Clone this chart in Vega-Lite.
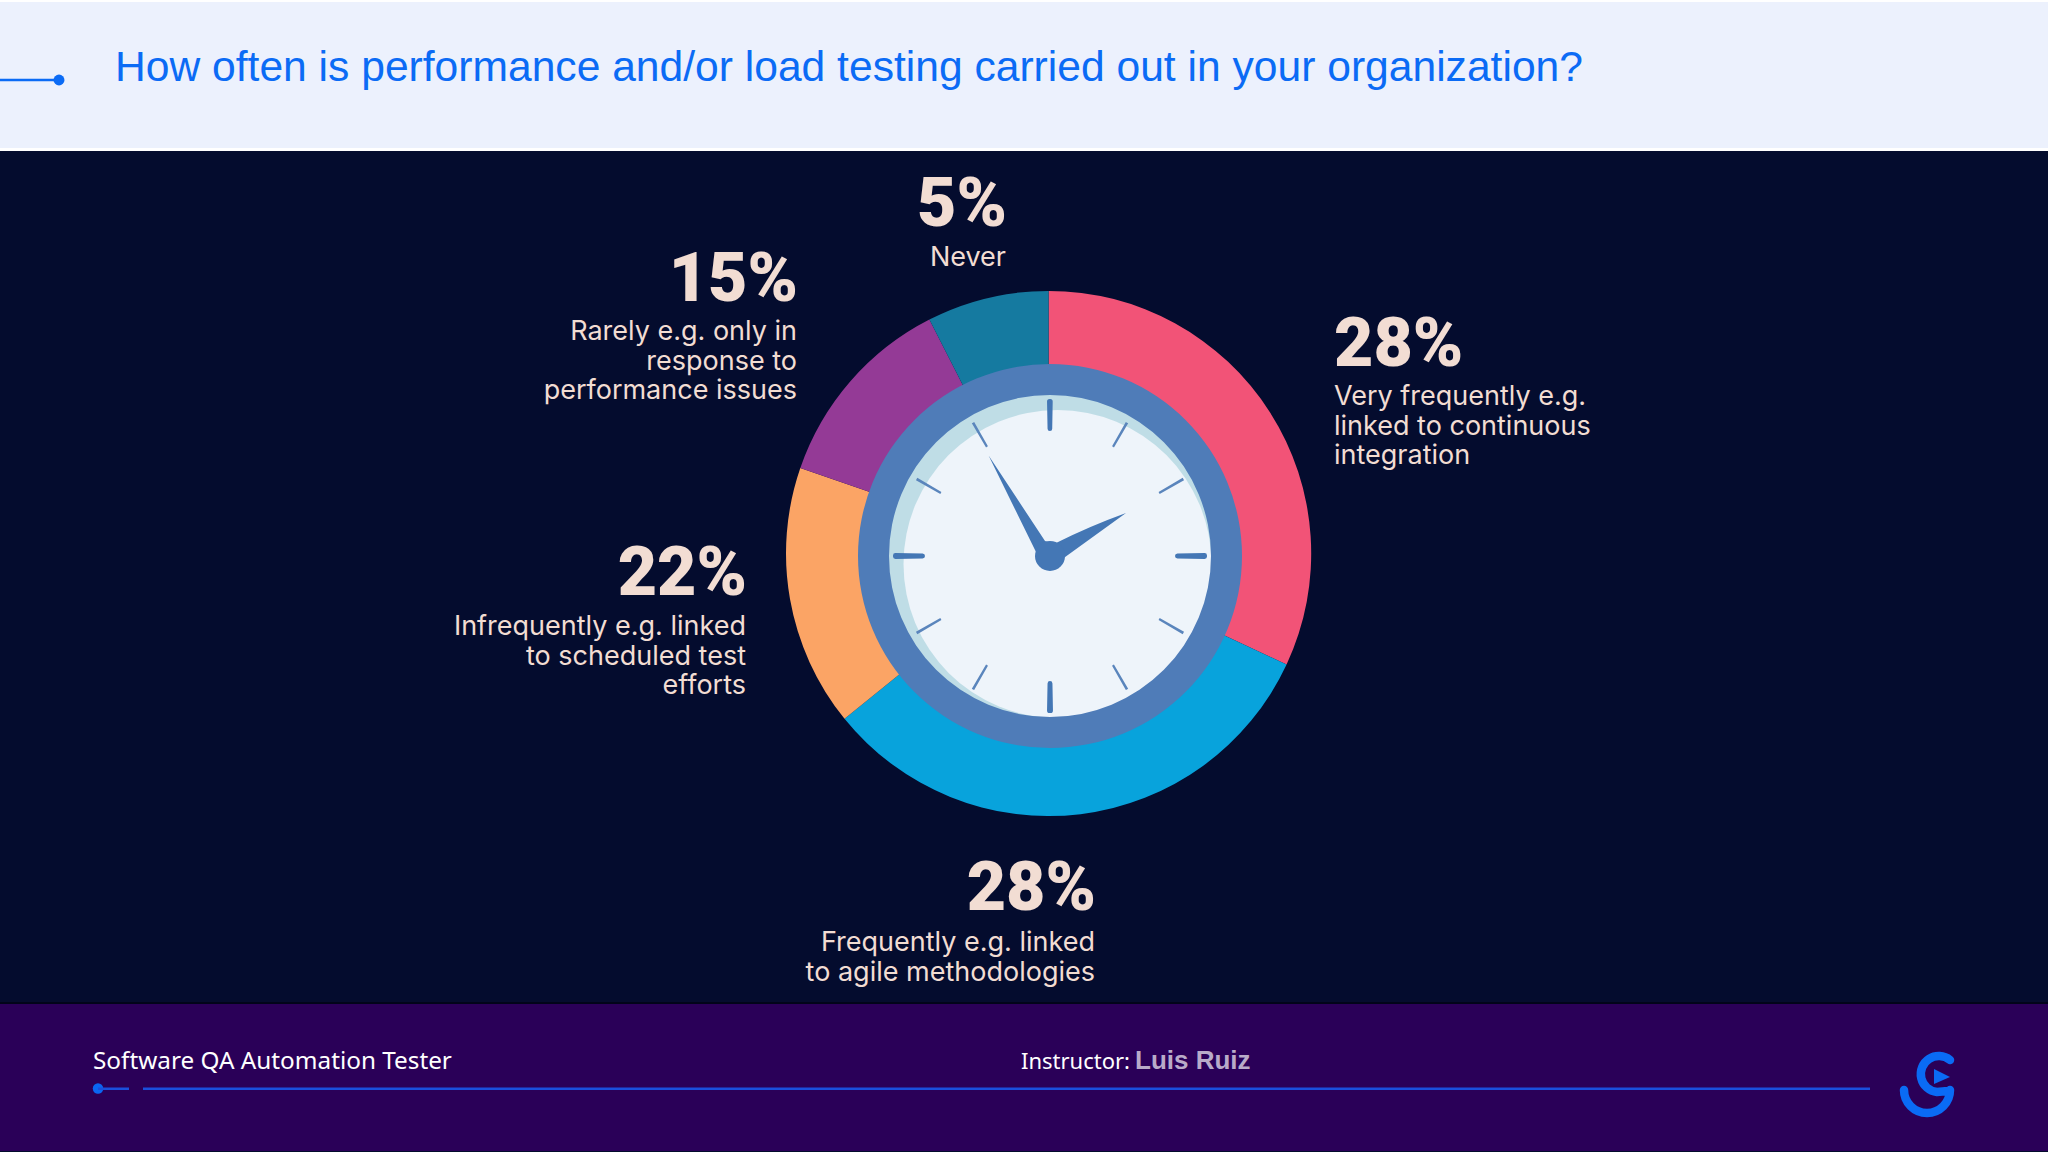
{
  "$schema": "https://vega.github.io/schema/vega-lite/v6.json",
  "autosize": {"type": "none"},
  "padding": 0,
  "width": 2048,
  "height": 1152,
  "background": "#040C2E",
  "view": {"stroke": null},
  "title": {
    "text": "How often is performance and/or load testing carried out in your organization?",
    "anchor": "start",
    "frame": "group",
    "baseline": "alphabetic",
    "offset": 0,
    "dx": 115,
    "dy": 124,
    "font": "Liberation Sans",
    "fontSize": 42.6,
    "fontWeight": "normal",
    "color": "#0B6BF5"
  },
  "datasets": {
    "answers": [
      {"answer": "Very frequently", "rank": 1, "degrees": 115, "share": "28%", "detail": ["Very frequently e.g.", "linked to continuous", "integration"]},
      {"answer": "Frequently", "rank": 2, "degrees": 116, "share": "28%", "detail": ["Frequently e.g. linked", "to agile methodologies"]},
      {"answer": "Infrequently", "rank": 3, "degrees": 58, "share": "22%", "detail": ["Infrequently e.g. linked", "to scheduled test", "efforts"]},
      {"answer": "Rarely", "rank": 4, "degrees": 44, "share": "15%", "detail": ["Rarely e.g. only in", "response to", "performance issues"]},
      {"answer": "Never", "rank": 5, "degrees": 27, "share": "5%", "detail": ["Never"]}
    ],
    "hours": [
      {"hour": 12, "kind": "major", "start": 358.9, "end": 361},
      {"hour": 1, "kind": "minor", "start": 29.5, "end": 30.5},
      {"hour": 2, "kind": "minor", "start": 59.5, "end": 60.5},
      {"hour": 3, "kind": "major", "start": 88.9, "end": 91.1},
      {"hour": 4, "kind": "minor", "start": 119.5, "end": 120.5},
      {"hour": 5, "kind": "minor", "start": 149.5, "end": 150.5},
      {"hour": 6, "kind": "major", "start": 178.9, "end": 181.1},
      {"hour": 7, "kind": "minor", "start": 209.5, "end": 210.5},
      {"hour": 8, "kind": "minor", "start": 239.5, "end": 240.5},
      {"hour": 9, "kind": "major", "start": 268.9, "end": 271.1},
      {"hour": 10, "kind": "minor", "start": 299.5, "end": 300.5},
      {"hour": 11, "kind": "minor", "start": 329.5, "end": 330.5}
    ],
    "one": [{"part": "decoration"}]
  },
  "data": {"name": "answers"},
  "layer": [
    {"data": {"name": "one"}, "encoding": {}, "mark": {"type": "rect", "x": 0, "x2": 2048, "y": 0, "y2": 151, "fill": "#FFFFFF"}},
    {"data": {"name": "one"}, "encoding": {}, "mark": {"type": "rect", "x": 0, "x2": 2048, "y": 2, "y2": 148, "fill": "#ECF1FD"}},
    {"data": {"name": "one"}, "encoding": {}, "mark": {"type": "rect", "x": 0, "x2": 2048, "y": 1002, "y2": 1004, "fill": "#01041A"}},
    {"data": {"name": "one"}, "encoding": {}, "mark": {"type": "rect", "x": 0, "x2": 2048, "y": 1004, "y2": 1151, "fill": "#2A0058"}},
    {"data": {"name": "one"}, "encoding": {}, "mark": {"type": "rect", "x": 0, "x2": 58, "y": 78.8, "y2": 81.2, "fill": "#0B6BF5"}},
    {"data": {"name": "one"}, "encoding": {}, "mark": {"type": "circle", "x": 59, "y": 80, "size": 120, "fill": "#0B6BF5", "opacity": 1}},
    {
      "mark": {"type": "arc", "x": 1048.6, "y": 553.5, "radius": 262.6, "radius2": 170},
      "encoding": {
        "theta": {"field": "degrees", "type": "quantitative", "stack": true},
        "order": {"field": "rank", "type": "quantitative"},
        "color": {
          "field": "answer",
          "type": "nominal",
          "legend": null,
          "scale": {
            "domain": ["Very frequently", "Frequently", "Infrequently", "Rarely", "Never"],
            "range": ["#F25377", "#08A3DC", "#FBA465", "#943A96", "#157AA0"]
          }
        }
      }
    },
    {"data": {"name": "one"}, "encoding": {}, "mark": {"type": "arc", "x": 1050, "y": 556, "radius": 162, "radius2": 0, "theta": 0, "theta2": 6.2832, "fill": "#BFDDE6"}},
    {"data": {"name": "one"}, "encoding": {}, "mark": {"type": "arc", "x": 1057.5, "y": 564, "radius": 154, "radius2": 0, "theta": 0, "theta2": 6.2832, "fill": "#EEF4FA"}},
    {"data": {"name": "one"}, "encoding": {}, "mark": {"type": "arc", "x": 1050, "y": 556, "radius": 192, "radius2": 161, "theta": 0, "theta2": 6.2832, "fill": "#4F7CB8"}},
    {
      "data": {"name": "hours"},
      "transform": [{"filter": "datum.kind == 'major'"}],
      "mark": {"type": "arc", "x": 1050, "y": 556, "radius": 157, "radius2": 125, "cornerRadius": 2.5, "fill": "#4477B5"},
      "encoding": {
        "theta": {"field": "start", "type": "quantitative", "stack": null, "scale": {"domain": [0, 360], "range": [0, 6.2832]}},
        "theta2": {"field": "end"}
      }
    },
    {
      "data": {"name": "hours"},
      "transform": [{"filter": "datum.kind == 'minor'"}],
      "mark": {"type": "arc", "x": 1050, "y": 556, "radius": 154, "radius2": 126, "fill": "#5A85BC"},
      "encoding": {
        "theta": {"field": "start", "type": "quantitative", "stack": null, "scale": {"domain": [0, 360], "range": [0, 6.2832]}},
        "theta2": {"field": "end"}
      }
    },
    {
      "data": {"name": "one"},
      "encoding": {},
      "mark": {
        "type": "point",
        "x": 1050,
        "y": 556,
        "size": 4,
        "filled": true,
        "opacity": 1,
        "fill": "#4477B5",
        "shape": "M-61.4,-100.5 L-5,-15 Q1,-12 6,-13 Q40,-30 76,-43 Q40,-17 11,4 L-14,-4 Z"
      }
    },
    {"data": {"name": "one"}, "encoding": {}, "mark": {"type": "circle", "x": 1050, "y": 556, "size": 900, "fill": "#4477B5", "opacity": 1}},

    {"transform": [{"filter": "datum.rank == 1"}], "mark": {"type": "text", "x": 1334, "y": 366, "align": "left", "baseline": "alphabetic", "font": "Roboto", "fontWeight": 900, "fontSize": 68, "fill": "#F2DDD3"}, "encoding": {"text": {"field": "share"}}},
    {"transform": [{"filter": "datum.rank == 1"}], "mark": {"type": "text", "x": 1334, "y": 405, "align": "left", "baseline": "alphabetic", "font": "Inter", "fontSize": 27, "lineHeight": 29.5, "fill": "#F2DDD3"}, "encoding": {"text": {"field": "detail"}}},

    {"transform": [{"filter": "datum.rank == 2"}], "mark": {"type": "text", "x": 1096, "y": 910, "align": "right", "baseline": "alphabetic", "font": "Roboto", "fontWeight": 900, "fontSize": 68, "fill": "#F2DDD3"}, "encoding": {"text": {"field": "share"}}},
    {"transform": [{"filter": "datum.rank == 2"}], "mark": {"type": "text", "x": 1095, "y": 951, "align": "right", "baseline": "alphabetic", "font": "Inter", "fontSize": 27, "lineHeight": 29.5, "fill": "#F2DDD3"}, "encoding": {"text": {"field": "detail"}}},

    {"transform": [{"filter": "datum.rank == 3"}], "mark": {"type": "text", "x": 747, "y": 595, "align": "right", "baseline": "alphabetic", "font": "Roboto", "fontWeight": 900, "fontSize": 68, "fill": "#F2DDD3"}, "encoding": {"text": {"field": "share"}}},
    {"transform": [{"filter": "datum.rank == 3"}], "mark": {"type": "text", "x": 746, "y": 635, "align": "right", "baseline": "alphabetic", "font": "Inter", "fontSize": 27, "lineHeight": 29.5, "fill": "#F2DDD3"}, "encoding": {"text": {"field": "detail"}}},

    {"transform": [{"filter": "datum.rank == 4"}], "mark": {"type": "text", "x": 798, "y": 301, "align": "right", "baseline": "alphabetic", "font": "Roboto", "fontWeight": 900, "fontSize": 68, "fill": "#F2DDD3"}, "encoding": {"text": {"field": "share"}}},
    {"transform": [{"filter": "datum.rank == 4"}], "mark": {"type": "text", "x": 797, "y": 340, "align": "right", "baseline": "alphabetic", "font": "Inter", "fontSize": 27, "lineHeight": 29.5, "fill": "#F2DDD3"}, "encoding": {"text": {"field": "detail"}}},

    {"transform": [{"filter": "datum.rank == 5"}], "mark": {"type": "text", "x": 1007, "y": 226, "align": "right", "baseline": "alphabetic", "font": "Roboto", "fontWeight": 900, "fontSize": 68, "fill": "#F2DDD3"}, "encoding": {"text": {"field": "share"}}},
    {"transform": [{"filter": "datum.rank == 5"}], "mark": {"type": "text", "x": 1006, "y": 266, "align": "right", "baseline": "alphabetic", "font": "Inter", "fontSize": 27, "lineHeight": 29.5, "fill": "#F2DDD3"}, "encoding": {"text": {"field": "detail"}}},

    {"data": {"values": [{"line": "Software QA Automation Tester"}]}, "mark": {"type": "text", "x": 93, "y": 1069, "align": "left", "baseline": "alphabetic", "font": "Noto Sans", "fontSize": 24.3, "fill": "#FFFFFF"}, "encoding": {"text": {"field": "line"}}},
    {"data": {"values": [{"line": "Instructor:"}]}, "mark": {"type": "text", "x": 1021, "y": 1069, "align": "left", "baseline": "alphabetic", "font": "Noto Sans", "fontSize": 22, "fill": "#FFFFFF"}, "encoding": {"text": {"field": "line"}}},
    {"data": {"values": [{"line": "Luis Ruiz"}]}, "mark": {"type": "text", "x": 1135, "y": 1069, "align": "left", "baseline": "alphabetic", "font": "Liberation Sans", "fontWeight": "bold", "fontSize": 26, "fill": "#B9ABC9"}, "encoding": {"text": {"field": "line"}}},

    {"data": {"name": "one"}, "encoding": {}, "mark": {"type": "circle", "x": 98, "y": 1088.5, "size": 110, "fill": "#0A66F2", "opacity": 1}},
    {"data": {"name": "one"}, "encoding": {}, "mark": {"type": "rect", "x": 98, "x2": 129, "y": 1087.5, "y2": 1090, "fill": "#1A4FDC"}},
    {"data": {"name": "one"}, "encoding": {}, "mark": {"type": "rect", "x": 143, "x2": 1870, "y": 1087.5, "y2": 1090, "fill": "#1A4FDC"}},

    {
      "data": {"name": "one"},
      "encoding": {},
      "mark": {
        "type": "point",
        "x": 1926,
        "y": 1077,
        "size": 4,
        "filled": false,
        "opacity": 1,
        "stroke": "#0A6BF5",
        "strokeWidth": 8.5,
        "strokeCap": "round",
        "shape": "M24,-17 A18,18 0 1 0 11,15 L22,14 M-22,13 A23,23 0 0 0 24,13"
      }
    },
    {
      "data": {"name": "one"},
      "encoding": {},
      "mark": {"type": "point", "x": 1926, "y": 1077, "size": 4, "filled": true, "opacity": 1, "fill": "#0A6BF5", "shape": "M8,-8 L24,0 L8,7 Z"}
    }
  ]
}
